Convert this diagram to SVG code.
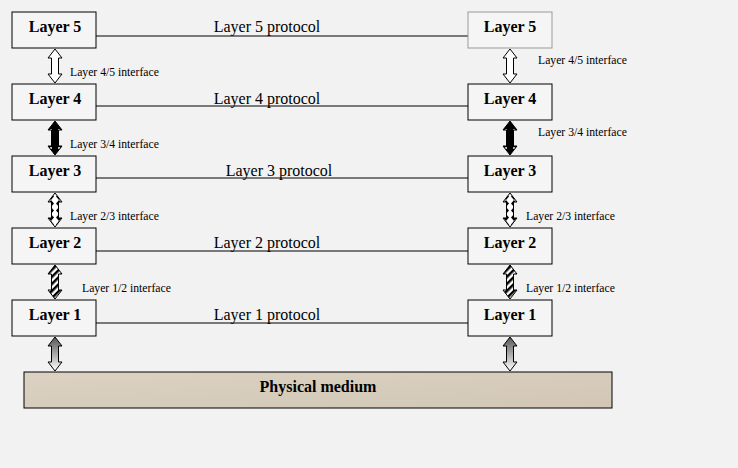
<svg xmlns="http://www.w3.org/2000/svg" width="738" height="468" viewBox="0 0 738 468">
<style>
.box{fill:#f5f5f5;stroke:#000;stroke-width:1}
text{font-family:"Liberation Serif","Times New Roman",serif}
.bl{font-weight:bold;font-size:16px;text-anchor:middle}
.pl{font-size:16px;text-anchor:middle}
.il{font-size:11.7px}
.ln{stroke:#000;stroke-width:1}
.ar{stroke:#000;stroke-width:1}
</style>
<defs>
<path id="dar" d="M0,0 L7,9 L3.5,9 L3.5,25 L7,25 L0,34 L-7,25 L-3.5,25 L-3.5,9 L-7,9 Z"/>
<pattern id="dots" width="8" height="6" patternUnits="userSpaceOnUse"><rect width="8" height="6" fill="#000"/><circle cx="4" cy="3" r="1" fill="#fff"/></pattern>
<pattern id="dia" width="8" height="7" patternUnits="userSpaceOnUse"><rect width="8" height="7" fill="#fff"/><path d="M4,0 L7,3.5 L4,7 L1,3.5Z" fill="#000"/></pattern>
<pattern id="str" width="5" height="5" patternUnits="userSpaceOnUse" patternTransform="rotate(45)"><rect width="5" height="5" fill="#fff"/><rect width="2.5" height="5" fill="#000"/></pattern>
<linearGradient id="gr" x1="0" y1="0" x2="0" y2="1"><stop offset="0" stop-color="#555"/><stop offset="1" stop-color="#fff"/></linearGradient>
<linearGradient id="sand" x1="0" y1="0" x2="1" y2="1"><stop offset="0" stop-color="#dbd2c3"/><stop offset="1" stop-color="#d2c7b5"/></linearGradient>
</defs>
<rect width="738" height="468" fill="#f2f2f2"/>
<g id="connectors">
<line class="ln" x1="96" y1="36" x2="468" y2="36"/>
<line class="ln" x1="96" y1="106" x2="468" y2="106"/>
<line class="ln" x1="96" y1="178" x2="468" y2="178"/>
<line class="ln" x1="96" y1="251" x2="468" y2="251"/>
<line class="ln" x1="96" y1="323" x2="468" y2="323"/>
<text class="pl" x="267" y="32">Layer 5 protocol</text>
<text class="pl" x="267" y="104">Layer 4 protocol</text>
<text class="pl" x="279" y="176">Layer 3 protocol</text>
<text class="pl" x="267" y="248">Layer 2 protocol</text>
<text class="pl" x="267" y="320">Layer 1 protocol</text>
<use href="#dar" class="ar" x="55" y="49" fill="#fff"/>
<use href="#dar" class="ar" x="510" y="49" fill="#fff"/>
<use href="#dar" class="ar" x="55" y="121" fill="url(#dots)"/>
<use href="#dar" class="ar" x="510" y="121" fill="url(#dots)"/>
<use href="#dar" class="ar" x="55" y="193" fill="url(#dia)"/>
<use href="#dar" class="ar" x="510" y="193" fill="url(#dia)"/>
<use href="#dar" class="ar" x="55" y="265" fill="url(#str)"/>
<use href="#dar" class="ar" x="510" y="265" fill="url(#str)"/>
<use href="#dar" class="ar" x="55" y="337" fill="url(#gr)"/>
<use href="#dar" class="ar" x="510" y="337" fill="url(#gr)"/>
<text class="il" x="70" y="76">Layer 4/5 interface</text>
<text class="il" x="538" y="64">Layer 4/5 interface</text>
<text class="il" x="70" y="148">Layer 3/4 interface</text>
<text class="il" x="538" y="136">Layer 3/4 interface</text>
<text class="il" x="70" y="220">Layer 2/3 interface</text>
<text class="il" x="526" y="220">Layer 2/3 interface</text>
<text class="il" x="82" y="292">Layer 1/2 interface</text>
<text class="il" x="526" y="292">Layer 1/2 interface</text>
</g>
<g id="L5a"><rect class="box" x="12" y="12" width="84" height="36"/><text class="bl" x="55" y="32">Layer 5</text></g>
<g id="L4a"><rect class="box" x="12" y="84" width="84" height="36"/><text class="bl" x="55" y="104">Layer 4</text></g>
<g id="L3a"><rect class="box" x="12" y="156" width="84" height="36"/><text class="bl" x="55" y="176">Layer 3</text></g>
<g id="L2a"><rect class="box" x="12" y="228" width="84" height="36"/><text class="bl" x="55" y="248">Layer 2</text></g>
<g id="L1a"><rect class="box" x="12" y="300" width="84" height="36"/><text class="bl" x="55" y="320">Layer 1</text></g>
<g id="L5b"><rect class="box" x="468" y="12" width="84" height="36" style="stroke:#999"/><text class="bl" x="510" y="32">Layer 5</text></g>
<g id="L4b"><rect class="box" x="468" y="84" width="84" height="36"/><text class="bl" x="510" y="104">Layer 4</text></g>
<g id="L3b"><rect class="box" x="468" y="156" width="84" height="36"/><text class="bl" x="510" y="176">Layer 3</text></g>
<g id="L2b"><rect class="box" x="468" y="228" width="84" height="36"/><text class="bl" x="510" y="248">Layer 2</text></g>
<g id="L1b"><rect class="box" x="468" y="300" width="84" height="36"/><text class="bl" x="510" y="320">Layer 1</text></g>
<g id="medium"><rect x="24" y="372" width="588" height="36" fill="url(#sand)" stroke="#000"/><text class="bl" x="318" y="392">Physical medium</text></g>
</svg>
